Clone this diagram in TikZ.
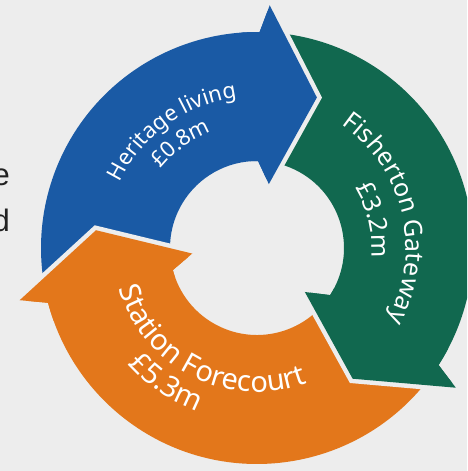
\documentclass[tikz,border=0pt]{standalone}
\usepackage{fontspec}
\setmainfont{Noto Sans}
\newfontfamily\leftfamily{Liberation Sans}
\usetikzlibrary{decorations.text}
\definecolor{bgc}{HTML}{EDEDED}
\definecolor{cblue}{HTML}{1A5AA5}
\definecolor{cgreen}{HTML}{11684F}
\definecolor{corange}{HTML}{E3771B}
\definecolor{ctext}{HTML}{222222}
\newcommand\arrowpath[2]{({#2}:216pt) arc[start angle={#2}, end angle={#1+21}, radius=216pt] -- ({#1+18.7}:243pt) -- ({#1}:162pt) -- ({#1+11.2}:65pt) -- ({#1+21}:87pt) arc[start angle={#1+21}, end angle={#2}, radius=87pt] -- cycle}
\newcommand\headpath[1]{({#1+26}:216pt) arc[start angle={#1+26}, end angle={#1+21}, radius=216pt] -- ({#1+18.7}:243pt) -- ({#1}:162pt) -- ({#1+11.2}:65pt) -- ({#1+21}:87pt) arc[start angle={#1+21}, end angle={#1+26}, radius=87pt] -- cycle}
\newcommand\gapline[1]{({#1+18.7}:243pt) -- ({#1}:162pt) -- ({#1+11.2}:65pt)}
\newcommand\bluefont{\fontsize{22}{22}\selectfont}
\newcommand\greenfont{\fontsize{25}{25}\selectfont}
\newcommand\orangefont{\fontsize{29}{29}\selectfont}
\tikzset{
  gap/.style={draw=bgc, line width=9pt, line join=miter},
  arctext/.style={decorate, decoration={text along path, text align=center, text color=white, text={#1}}},
  lefttext/.style={anchor=base east, inner sep=0pt, text=ctext, font=\leftfamily\fontsize{31}{31}\selectfont}
}
\begin{document}
\begin{tikzpicture}[x=1pt,y=1pt]
\useasboundingbox (-257,-223) rectangle (210,248);
\clip (-257,-223) rectangle (210,248);
\fill[bgc] (-257,-223) rectangle (210,248);
% arrow bodies
\fill[cgreen] \arrowpath{-53.8}{84.3};
\fill[corange] \arrowpath{173.7}{322.2};
\fill[cblue] \arrowpath{68.3}{189.7};
% heads with gaps
\draw[gap] \gapline{68.3};
\fill[cblue] \headpath{68.3};
\draw[gap] \gapline{-53.8};
\fill[cgreen] \headpath{-53.8};
\draw[gap] \gapline{173.7};
\fill[corange] \headpath{173.7};
% labels
\path[arctext={|\bluefont|Heritage living}] (186:152pt) arc[start angle=186, end angle=66, radius=152pt];
\path[arctext={|\bluefont|£0.8m}] (186:125pt) arc[start angle=186, end angle=66, radius=125pt];
\path[arctext={|\greenfont|Fisherton Gateway}] (73.5:149pt) arc[start angle=73.5, end angle=-46.5, radius=149pt];
\path[arctext={|\greenfont|£3.2m}] (73.5:115pt) arc[start angle=73.5, end angle=-46.5, radius=115pt];
\path[arctext={|\orangefont|Station Forecourt}] (183.5:144pt) arc[start angle=183.5, end angle=303.5, radius=144pt];
\path[arctext={|\orangefont|£5.3m}] (176:174pt) arc[start angle=176, end angle=296, radius=174pt];
% cut-off text at the left edge
\node[lefttext] (le) at (-247,62) {e};
\node[lefttext] (ld) at (-247,16) {d};
\end{tikzpicture}
\end{document}
